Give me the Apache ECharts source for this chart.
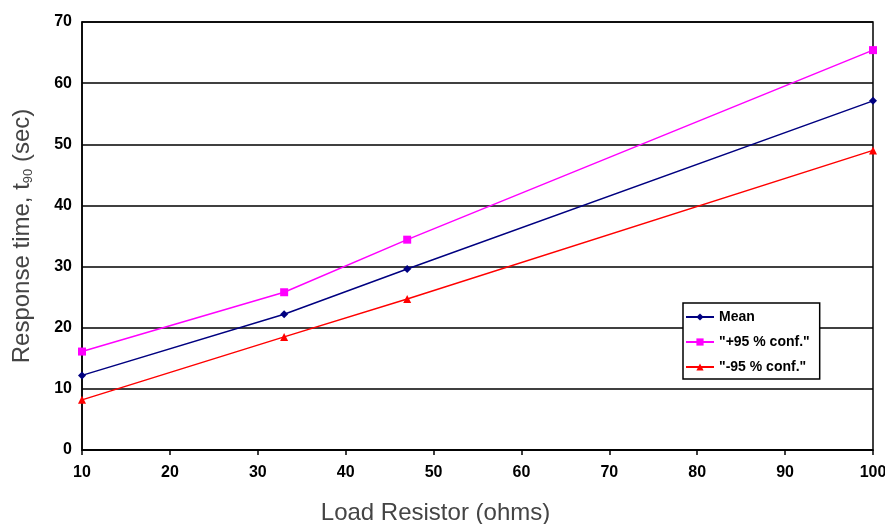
<!DOCTYPE html>
<html>
<head>
<meta charset="utf-8">
<script src="https://cdn.jsdelivr.net/npm/echarts@6/dist/echarts.min.js"></script>
<style>
html,body{margin:0;padding:0;background:#fff;}
#chart{width:885px;height:524px;}
</style>
</head>
<body>
<div id="chart"></div>
<script>
// Data
var loadResistor = [10, 33, 47, 100];
var meanValues = [12.2, 22.2, 29.6, 57.1];
var plus95Values = [16.1, 25.8, 34.4, 65.4];
var minus95Values = [8.2, 18.5, 24.7, 49.0];
var seriesNames = ['Mean', '"+95 % conf."', '"-95 % conf."'];

function pairs(xs, ys) {
  return xs.map(function (x, i) { return [x, ys[i]]; });
}

var tickFont = {
  fontFamily: '"Liberation Sans", Arial, sans-serif',
  fontWeight: 'bold',
  fontSize: 16,
  color: '#000'
};
var nameFont = '"Liberation Sans", Arial, sans-serif';

var chart = echarts.init(document.getElementById('chart'));
chart.setOption({
  animation: false,
  backgroundColor: '#fff',
  grid: {
    left: 82, right: 12, top: 22, bottom: 74,
    containLabel: false, outerBoundsMode: 'none',
    show: true, borderColor: '#000', borderWidth: 1.5, backgroundColor: 'transparent'
  },
  xAxis: {
    type: 'value',
    min: 10, max: 100, interval: 10,
    name: 'Load Resistor (ohms)',
    nameLocation: 'middle',
    nameGap: 51,
    nameTextStyle: {
      fontFamily: nameFont,
      fontSize: 24, color: '#444',
      padding: [0, 84, 0, 0]
    },
    axisLine: { show: true, lineStyle: { color: '#000', width: 1.5 } },
    axisTick: { show: true, length: 5, lineStyle: { color: '#000', width: 1.5 } },
    axisLabel: Object.assign({ margin: 15 }, tickFont),
    splitLine: { show: false }
  },
  yAxis: {
    type: 'value',
    min: 0, max: 70, interval: 10,
    name: '{a|Response time, t}{b|90}{a| (sec)}',
    nameLocation: 'middle',
    nameRotate: 90,
    nameGap: 47,
    nameTextStyle: {
      rich: {
        a: { fontFamily: nameFont, fontSize: 24, color: '#444' },
        b: { fontFamily: nameFont, fontSize: 13, color: '#444', padding: [12, 0, 0, 0] }
      }
    },
    axisLine: { show: true, lineStyle: { color: '#000', width: 1.5 } },
    axisTick: { show: false },
    axisLabel: Object.assign({ margin: 10 }, tickFont),
    splitLine: { show: true, lineStyle: { color: '#000', width: 1.5 } }
  },
  legend: {
    orient: 'vertical',
    left: 683, top: 303,
    backgroundColor: '#fff',
    borderColor: '#000',
    borderWidth: 1.5,
    padding: [7, 10, 5, 2],
    itemGap: 11,
    itemWidth: 28,
    itemHeight: 9,
    textStyle: {
      fontFamily: '"Liberation Sans", Arial, sans-serif',
      fontWeight: 'bold', fontSize: 14, color: '#000'
    },
    data: seriesNames
  },
  series: [
    {
      name: seriesNames[0], type: 'line',
      data: pairs(loadResistor, meanValues),
      symbol: 'diamond', symbolSize: 8,
      itemStyle: { color: '#000080' },
      lineStyle: { color: '#000080', width: 1.5 },
      z: 3
    },
    {
      name: seriesNames[1], type: 'line',
      data: pairs(loadResistor, plus95Values),
      symbol: 'rect', symbolSize: 8,
      itemStyle: { color: '#ff00ff' },
      lineStyle: { color: '#ff00ff', width: 1.5 },
      z: 3
    },
    {
      name: seriesNames[2], type: 'line',
      data: pairs(loadResistor, minus95Values),
      symbol: 'triangle', symbolSize: 8,
      itemStyle: { color: '#ff0000' },
      lineStyle: { color: '#ff0000', width: 1.5 },
      z: 3
    }
  ]
});
</script>
</body>
</html>
